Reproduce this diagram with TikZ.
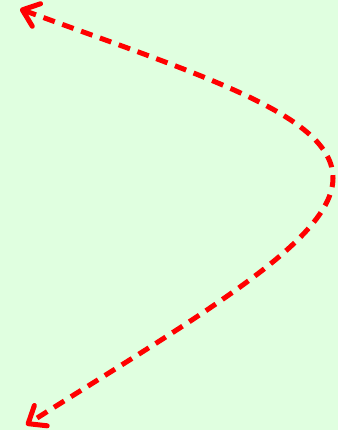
\documentclass[tikz,border=0pt]{standalone}
\usetikzlibrary{arrows.meta}
\definecolor{bgreen}{RGB}{224,255,224}
\tikzset{redcurve/.style={draw=red,line width=5pt,dash pattern=on 12pt off 8pt,
  {Straight Barb[length=15pt,width=24pt,round]}-{Straight Barb[length=15pt,width=24pt,round]}}}
\begin{document}
\begin{tikzpicture}[x=1pt,y=-1pt]
\fill[bgreen] (0,0) rectangle (338,430);
\useasboundingbox (0,0) rectangle (338,430);
\coordinate (s) at (20,9);
\coordinate (m) at (333,178);
\coordinate (e) at (26,425);
\path[redcurve] (s) .. controls (200,75) and (333,115) .. (m) .. controls (333,240) and (200,315) .. (e);
\end{tikzpicture}
\end{document}
